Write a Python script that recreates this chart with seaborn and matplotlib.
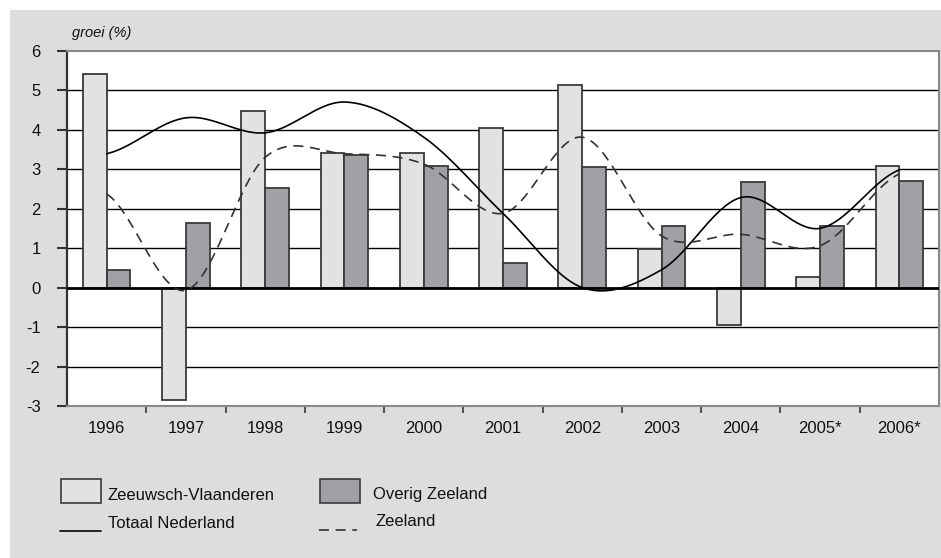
import numpy as np
import pandas as pd
import matplotlib
matplotlib.use("Agg")
import matplotlib.pyplot as plt
import seaborn as sns
from matplotlib.patches import Rectangle
from matplotlib.lines import Line2D

# ---- data ----
jaren = ["1996", "1997", "1998", "1999", "2000", "2001", "2002", "2003", "2004", "2005*", "2006*"]
zeeuwsch_vlaanderen = [5.42, -2.85, 4.48, 3.41, 3.41, 4.05, 5.13, 0.97, -0.95, 0.26, 3.08]
overig_zeeland = [0.44, 1.63, 2.51, 3.36, 3.07, 0.63, 3.05, 1.57, 2.68, 1.57, 2.71]
totaal_nederland = [3.39, 4.30, 3.92, 4.70, 3.81, 1.88, 0.0, 0.45, 2.28, 1.50, 2.98]
zeeland = [2.37, -0.07, 3.30, 3.39, 3.13, 1.88, 3.81, 1.31, 1.35, 1.06, 2.88]
yticks = list(range(-3, 7))

sns.set_theme(style="white")
plt.rcParams["font.family"] = ["Liberation Sans", "DejaVu Sans"]

W, H = 941, 558
FS = 12
fig = plt.figure(figsize=(W / 100, H / 100), dpi=100)
fig.patch.set_facecolor("white")
fig.patches.append(Rectangle((10 / W, 0), 1, (H - 10) / H, transform=fig.transFigure,
                             facecolor="#dcdddf", edgecolor="none", zorder=-10))

ax = fig.add_axes([67 / W, 1 - 406 / H, (939 - 67) / W, (406 - 50.7) / H])
ax.set_facecolor("white")

df = pd.DataFrame({
    "jaar": jaren * 2,
    "groei": zeeuwsch_vlaanderen + overig_zeeland,
    "reeks": ["Zeeuwsch-Vlaanderen"] * len(jaren) + ["Overig Zeeland"] * len(jaren),
})
light, dark = "#e1e2e4", "#a0a1a4"
sns.barplot(data=df, x="jaar", y="groei", hue="reeks", order=jaren,
            palette={"Zeeuwsch-Vlaanderen": light, "Overig Zeeland": dark},
            width=0.6, edgecolor="#3a3a3a", linewidth=1.3, saturation=1,
            legend=False, ax=ax, zorder=3)

# gridlines
for y in yticks[1:-1]:
    ax.axhline(y, color="black", lw=2.0 if y == 0 else 1.0, zorder=2 if y != 0 else 4)


def catmull(vals, n=40):
    xs = np.arange(len(vals), dtype=float)
    ys = np.asarray(vals, dtype=float)
    px = np.concatenate([[2 * xs[0] - xs[1]], xs, [2 * xs[-1] - xs[-2]]])
    py = np.concatenate([[ys[0]], ys, [ys[-1]]])
    ox, oy = [], []
    for i in range(1, len(px) - 2):
        t = np.linspace(0, 1, n, endpoint=False)
        b0 = -0.5 * t**3 + t**2 - 0.5 * t
        b1 = 1.5 * t**3 - 2.5 * t**2 + 1
        b2 = -1.5 * t**3 + 2 * t**2 + 0.5 * t
        b3 = 0.5 * t**3 - 0.5 * t**2
        ox.append(b0 * px[i - 1] + b1 * px[i] + b2 * px[i + 1] + b3 * px[i + 2])
        oy.append(b0 * py[i - 1] + b1 * py[i] + b2 * py[i + 1] + b3 * py[i + 2])
    ox.append([xs[-1]]); oy.append([ys[-1]])
    return np.concatenate(ox), np.concatenate(oy)


sx, sy = catmull(totaal_nederland)
ax.plot(sx, sy, color="black", lw=1.2, zorder=5)
zx, zy = catmull(zeeland)
ax.plot(zx, zy, color="#333333", lw=1.2, ls=(0, (6, 4)), zorder=5)

ax.set_xlim(-0.5, len(jaren) - 0.5)
ax.set_ylim(-3, 6)
ax.set_yticks(yticks)
ax.set_yticklabels([str(v) for v in yticks], fontsize=FS, color="#111111")
ax.set_xticks(range(len(jaren)))
ax.set_xticklabels(jaren, fontsize=FS, color="#111111")
ax.set_xticks(np.arange(0.5, len(jaren) - 0.5, 1), minor=True)
ax.set_xlabel("")
ax.set_ylabel("")
ax.tick_params(axis="x", which="major", length=0, pad=11)
ax.tick_params(axis="x", which="minor", length=5, width=1.5, color="#555555", direction="out", bottom=True)
ax.tick_params(axis="y", which="major", length=7, width=1.5, color="#333333", direction="out", left=True, pad=12)

for s in ["top", "right", "bottom"]:
    ax.spines[s].set_visible(True)
    ax.spines[s].set_color("#888888")
    ax.spines[s].set_linewidth(1.5)
ax.spines["left"].set_color("#333333")
ax.spines["left"].set_linewidth(1.6)

fig.text(72 / W, 1 - 33 / H, "groei (%)", fontsize=10.5, style="italic", va="center", ha="left", color="#111111")

# legend (manual)
def px2fig(x, y):
    return x / W, 1 - y / H

x0, y0 = px2fig(61, 502.5)
fig.patches.append(Rectangle((x0, y0), 40 / W, 23.5 / H, transform=fig.transFigure,
                             facecolor=light, edgecolor="#3a3a3a", lw=1.2))
x0, y0 = px2fig(319.5, 502.5)
fig.patches.append(Rectangle((x0, y0), 40.5 / W, 23.5 / H, transform=fig.transFigure,
                             facecolor=dark, edgecolor="#3a3a3a", lw=1.2))
fig.lines.append(Line2D([60 / W, 101 / W], [1 - 530.5 / H] * 2, transform=fig.transFigure,
                        color="black", lw=1.2))
fig.lines.append(Line2D([319 / W, 357 / W], [1 - 529.5 / H] * 2, transform=fig.transFigure,
                        color="#333333", lw=1.2, ls=(0, (6, 4))))
fig.text(*px2fig(107, 495), "Zeeuwsch-Vlaanderen", fontsize=FS, va="center", ha="left", color="#111111")
fig.text(*px2fig(373, 494), "Overig Zeeland", fontsize=FS, va="center", ha="left", color="#111111")
fig.text(*px2fig(108, 524), "Totaal Nederland", fontsize=FS, va="center", ha="left", color="#111111")
fig.text(*px2fig(375, 521), "Zeeland", fontsize=FS, va="center", ha="left", color="#111111")

fig.savefig("out.png", dpi=100)
